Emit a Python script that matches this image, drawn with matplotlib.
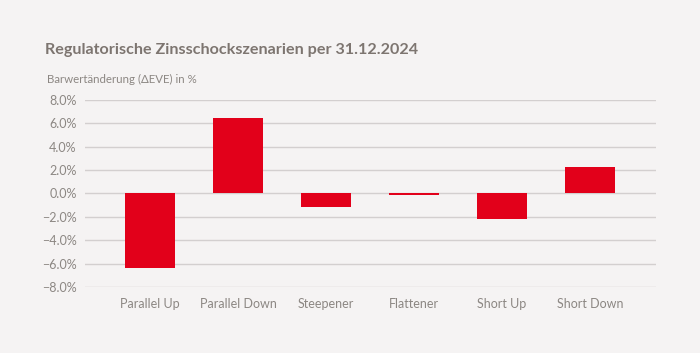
import matplotlib.pyplot as plt
from matplotlib.ticker import FuncFormatter

# Data
scenarios = ["Parallel Up", "Parallel Down", "Steepener", "Flattener", "Short Up", "Short Down"]
delta_eve = [-6.35, 6.45, -1.2, -0.1, -2.15, 2.3]

bg = "#f5f3f3"
text_col = "#8c8783"

plt.rcParams["font.family"] = ["Lato", "DejaVu Sans"]

fig = plt.figure(figsize=(7, 3.53), dpi=100, facecolor=bg)
ax = fig.add_axes([0.1214, 0.187, 0.8156, 0.53], facecolor=bg)

x = range(len(scenarios))
ax.bar(x, delta_eve, width=0.57, color="#e2001a", zorder=3)

ax.set_ylim(-8, 8)
ax.set_xlim(-0.74, 5.75)
ax.set_yticks(range(-8, 9, 2))
ax.yaxis.set_major_formatter(FuncFormatter(lambda v, p: f"{v:.1f}%".replace("-", "\u2212") if v < 0 else f"{v:.1f}%"))
ax.set_xticks(list(x))
ax.set_xticklabels(scenarios)

ax.grid(axis="y", color="#d3cfcf", linewidth=1, zorder=0)
for s in ax.spines.values():
    s.set_visible(False)
ax.tick_params(axis="both", length=0, colors=text_col, labelsize=9)
ax.tick_params(axis="x", pad=8)
ax.tick_params(axis="y", pad=6)

fig.text(45 / 700, 1 - 50 / 353, "Regulatorische Zinsschockszenarien per 31.12.2024",
         fontsize=11.6, fontweight="bold", color="#7d7570", va="center", ha="left")
fig.text(47 / 700, 1 - 79 / 353, "Barwertänderung (\u0394EVE) in %",
         fontsize=8.3, color=text_col, va="center", ha="left")

fig.savefig("out.png", dpi=100, facecolor=bg)
